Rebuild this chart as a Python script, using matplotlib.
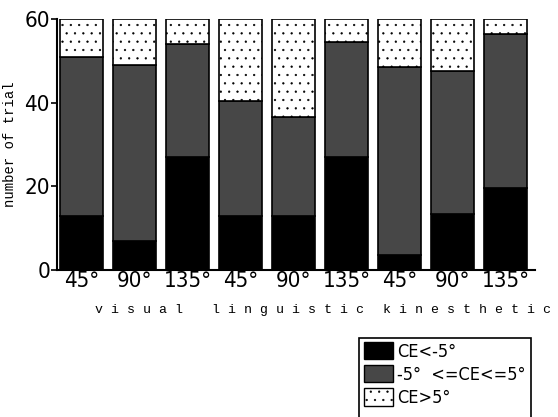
import numpy as np
import matplotlib.pyplot as plt
from matplotlib.patches import Patch, Rectangle

# counts of trials in each class
conditions = ["visual", "linguistic", "kinesthetic"]
angles = ["45°", "90°", "135°"]
ce_low = [13, 7, 27, 13, 13, 27, 3.5, 13.5, 19.5]
ce_mid = [38, 42, 27, 27.5, 23.5, 27.5, 45, 34, 37]
ce_high = [9, 11, 6, 19.5, 23.5, 5.5, 11.5, 12.5, 3.5]
legend_labels = ["CE<-5°", "-5°  <=CE<=5°", "CE>5°"]
yticks = [0, 20, 40, 60]

NARROW = ["DejaVu Sans"]
MONO = ["Liberation Mono", "DejaVu Sans Mono"]
MID_GRAY = "#474747"
plt.rcParams["hatch.linewidth"] = 0.4

fig = plt.figure(figsize=(5.58, 4.17), dpi=100)
ax = fig.add_axes([57 / 558, 1 - 270 / 417, (535 - 57) / 558, (270 - 19) / 417])

x = np.arange(len(ce_low))
low = np.array(ce_low)
mid = np.array(ce_mid)
high = np.array(ce_high)
w = 0.81
ax.bar(x, low, w, color="black", edgecolor="black", linewidth=1.2)
ax.bar(x, mid, w, bottom=low, color=MID_GRAY, edgecolor="black", linewidth=1.2)
ax.bar(x, high, w, bottom=low + mid, color="white", edgecolor="black",
       linewidth=1.2, hatch="..")

ax.set_xlim(-0.462, 8.557)
ax.set_ylim(0, 60)
ax.set_yticks(yticks)
ax.set_yticklabels([str(t) for t in yticks], family=NARROW, fontsize=16,
                   stretch="condensed")
ax.set_xticks(x)
ax.set_xticklabels(angles * 3, family=NARROW, fontsize=16, stretch="condensed")
ax.tick_params(axis="x", length=0, pad=1)
ax.tick_params(axis="y", length=4, width=1.2, pad=1)
for s in ["top", "right"]:
    ax.spines[s].set_visible(False)
ax.spines["left"].set_linewidth(1.5)
ax.spines["bottom"].set_linewidth(1.5)

ax.set_ylabel("number of trial", family=MONO, fontsize=10, labelpad=5)

# group names under the angle labels
group_x = [1.08, 3.9, 7.27]
for gx, name in zip(group_x, conditions):
    ax.text(gx, -0.16, " ".join(name), transform=ax.get_xaxis_transform(),
            ha="center", va="center", family=MONO, fontsize=9.5)

# legend, its box runs off the bottom edge
handles = [Patch(facecolor="black", edgecolor="black"),
           Patch(facecolor=MID_GRAY, edgecolor="black"),
           Patch(facecolor="white", edgecolor="black", hatch="..")]
fig.legend(handles, legend_labels, loc="upper left",
           bbox_to_anchor=(361 / 558, 1 - 339 / 417), frameon=False,
           prop={"family": NARROW, "size": 13, "stretch": "condensed"},
           handlelength=1.6, handleheight=1.1, handletextpad=0.25,
           labelspacing=0.25, borderpad=0.15, borderaxespad=0)
fig.patches.append(Rectangle((359 / 558, -0.05), (531 - 359) / 558,
                             1 - 337.7 / 417 + 0.05, transform=fig.transFigure,
                             fill=False, edgecolor="black", linewidth=1.2))

fig.savefig("out.png", dpi=100)
